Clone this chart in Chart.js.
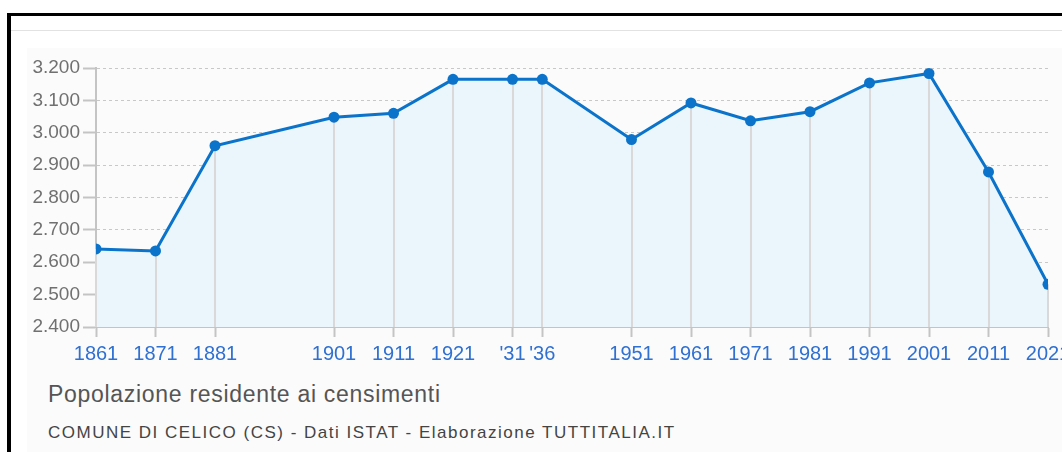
<!DOCTYPE html>
<html>
<head>
<meta charset="utf-8">
<script src="https://cdn.jsdelivr.net/npm/chart.js@4"></script>
<style>
  html, body { margin: 0; padding: 0; background: #fff; overflow: hidden; width: 1062px; height: 452px; }
  #frame { position: absolute; left: 7px; top: 13px; width: 1100px; height: 460px;
           border-top: 3px solid #000; border-left: 4px solid #000; background: #fff; }
  #topline { position: absolute; left: 11px; top: 30px; width: 1100px; height: 1px; background: #e2e2e2; }
  #panel { position: absolute; left: 27px; top: 48px; width: 1100px; height: 420px; background: #fbfbfb; }
  #chartBox { position: absolute; left: 27px; top: 48px; width: 1051px; height: 320px; }
  #titolo { position: absolute; left: 48px; top: 381px; font: 23px "Liberation Sans", Arial, sans-serif; letter-spacing: 0.7px; color: #555; white-space: nowrap; }
  #fonte { position: absolute; left: 48px; top: 423px; font: 17px "Liberation Sans", Arial, sans-serif; letter-spacing: 1.5px; color: #444; white-space: nowrap; }
</style>
</head>
<body>
<div id="frame"></div>
<div id="topline"></div>
<div id="panel"></div>
<div id="chartBox"><canvas id="popChart"></canvas></div>
<div id="titolo">Popolazione residente ai censimenti</div>
<div id="fonte">COMUNE DI CELICO (CS) - Dati ISTAT - Elaborazione TUTTITALIA.IT</div>
<script>
// anni dei censimenti e popolazione residente
const anni = [1861, 1871, 1881, 1901, 1911, 1921, 1931, 1936, 1951, 1961, 1971, 1981, 1991, 2001, 2011, 2021];
const popolazione = [2641, 2635, 2960, 3048, 3060, 3165, 3165, 3165, 2979, 3092, 3037, 3065, 3154, 3183, 2879, 2532];
const etichetteAnni = ["1861", "1871", "1881", "1901", "1911", "1921", "'31", "'36", "1951", "1961", "1971", "1981", "1991", "2001", "2011", "2021"];
const yMin = 2400, yMax = 3200, yStep = 100;

function formatIt(v) {
  return String(v).replace(/\B(?=(\d{3})+(?!\d))/g, ".");
}

// linee verticali dal punto fino all'asse
const dropLines = {
  id: "dropLines",
  beforeDatasetsDraw(chart) {
    const ctx = chart.ctx;
    const meta = chart.getDatasetMeta(0);
    const bottom = chart.chartArea.bottom;
    ctx.save();
    ctx.strokeStyle = "#d9d9d9";
    ctx.lineWidth = 2;
    meta.data.forEach(pt => {
      ctx.beginPath();
      ctx.moveTo(Math.round(pt.x), pt.y);
      ctx.lineTo(Math.round(pt.x), bottom);
      ctx.stroke();
    });
    ctx.restore();
  }
};

const ctx = document.getElementById("popChart").getContext("2d");
new Chart(ctx, {
  type: "line",
  data: {
    datasets: [{
      data: anni.map((a, i) => ({ x: a, y: popolazione[i] })),
      borderColor: "#0b73ca",
      backgroundColor: "#eaf5fc",
      borderWidth: 3,
      pointRadius: 5.5,
      pointBackgroundColor: "#0b73ca",
      pointBorderWidth: 0,
      fill: "start",
      tension: 0
    }]
  },
  options: {
    responsive: true,
    maintainAspectRatio: false,
    animation: false,
    layout: { padding: { top: 20, right: 30, left: 0, bottom: 0 } },
    plugins: {
      legend: { display: false },
      tooltip: { enabled: false },
      filler: { drawTime: "beforeDatasetsDraw" }
    },
    scales: {
      x: {
        type: "linear",
        min: 1861,
        max: 2021,
        afterBuildTicks: s => { s.ticks = anni.map(v => ({ value: v })); },
        afterFit: s => { s.height = 41; },
        ticks: {
          autoSkip: false,
          maxRotation: 0,
          padding: 5,
          color: "#2f70d2",
          font: { family: "'Liberation Sans', Arial, sans-serif", size: 20 },
          callback: v => etichetteAnni[anni.indexOf(v)]
        },
        grid: {
          drawOnChartArea: false,
          drawTicks: true,
          tickLength: 10,
          tickColor: "#c4c4c4",
          tickWidth: 2
        },
        border: { color: "#c4c4c4", width: 2 }
      },
      y: {
        min: yMin,
        max: yMax,
        afterFit: s => { s.width = 69; },
        ticks: {
          stepSize: yStep,
          padding: 3,
          color: "#707070",
          font: { family: "'Liberation Sans', Arial, sans-serif", size: 19 },
          callback: v => formatIt(v)
        },
        grid: {
          color: "#c8c8c8",
          lineWidth: 1,
          tickLength: 13,
          tickColor: "#c4c4c4",
          tickBorderDash: [],
          tickWidth: 2
        },
        border: { color: "#c4c4c4", width: 2, dash: [3, 3] }
      }
    }
  },
  plugins: [dropLines]
});
</script>
</body>
</html>
